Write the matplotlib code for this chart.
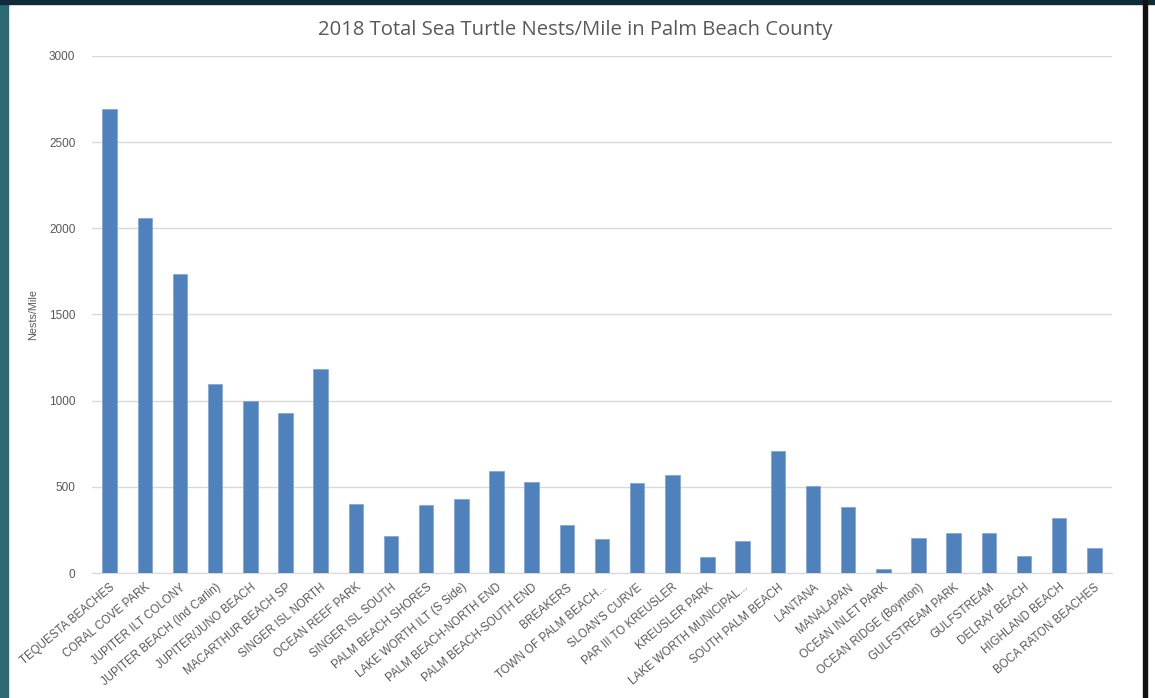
import matplotlib.pyplot as plt
from matplotlib.patches import Rectangle

beaches = [
    "TEQUESTA BEACHES", "CORAL COVE PARK", "JUPITER ILT COLONY",
    "JUPITER BEACH (Ind Carlin)", "JUPITER/JUNO BEACH", "MACARTHUR BEACH SP",
    "SINGER ISL NORTH", "OCEAN REEF PARK", "SINGER ISL SOUTH",
    "PALM BEACH SHORES", "LAKE WORTH ILT (S Side)", "PALM BEACH-NORTH END",
    "PALM BEACH-SOUTH END", "BREAKERS", "TOWN OF PALM BEACH...",
    "SLOAN'S CURVE", "PAR III TO KREUSLER", "KREUSLER PARK",
    "LAKE WORTH MUNICIPAL...", "SOUTH PALM BEACH", "LANTANA", "MANALAPAN",
    "OCEAN INLET PARK", "OCEAN RIDGE (Boynton)", "GULFSTREAM PARK",
    "GULFSTREAM", "DELRAY BEACH", "HIGHLAND BEACH", "BOCA RATON BEACHES",
]
nests_per_mile = [
    2690, 2058, 1737, 1097, 997, 927, 1184, 400, 215, 392, 430, 592, 528,
    280, 195, 522, 568, 93, 187, 708, 505, 382, 23, 203, 231, 231, 97,
    322, 145,
]
yticks = [0, 500, 1000, 1500, 2000, 2500, 3000]

gray = "#595959"

fig = plt.figure(figsize=(11.55, 6.98), dpi=100)
ax = fig.add_axes([0.0797, 0.179, 0.883, 0.741])

ax.bar(range(len(beaches)), nests_per_mile, width=0.415, color="#4F81BD",
       edgecolor="#7ea3d4", linewidth=0.5, zorder=3)

ax.set_xlim(-0.5, len(beaches) - 0.5)
ax.set_ylim(0, 3000)
ax.set_yticks(yticks)
ax.set_yticklabels([str(v) for v in yticks], fontsize=8.5, color=gray,
                   family="Liberation Sans")
ax.set_xticks(range(len(beaches)))
ax.set_xticklabels(beaches, rotation=40, ha="right", rotation_mode="anchor",
                   fontsize=8.3, color=gray, family="Liberation Sans")
ax.tick_params(length=0, pad=6)
ax.tick_params(axis="y", pad=12)
ax.grid(axis="y", color="#d9d9d9", linewidth=1, zorder=0)
for side in ["top", "right", "left"]:
    ax.spines[side].set_visible(False)
ax.spines["bottom"].set_color("#d9d9d9")
ax.set_ylabel("Nests/Mile", fontsize=7.8, color=gray, labelpad=8,
              family="Liberation Sans")

fig.text(0.498, 0.957, "2018 Total Sea Turtle Nests/Mile in Palm Beach County",
         ha="center", va="center", fontsize=14.6, color=gray, family="Open Sans")

# screenshot frame
fig.patches.append(Rectangle((0, 0), 8 / 1155, 1, transform=fig.transFigure,
                             color="#2b6a72", zorder=0))
fig.patches.append(Rectangle((0, 1 - 4 / 698), 1, 4 / 698,
                             transform=fig.transFigure, color="#0f2a38", zorder=0))
fig.patches.append(Rectangle((1143 / 1155, 0), 4 / 1155, 1,
                             transform=fig.transFigure, color="#111111", zorder=0))

fig.savefig("out.png", dpi=100)
